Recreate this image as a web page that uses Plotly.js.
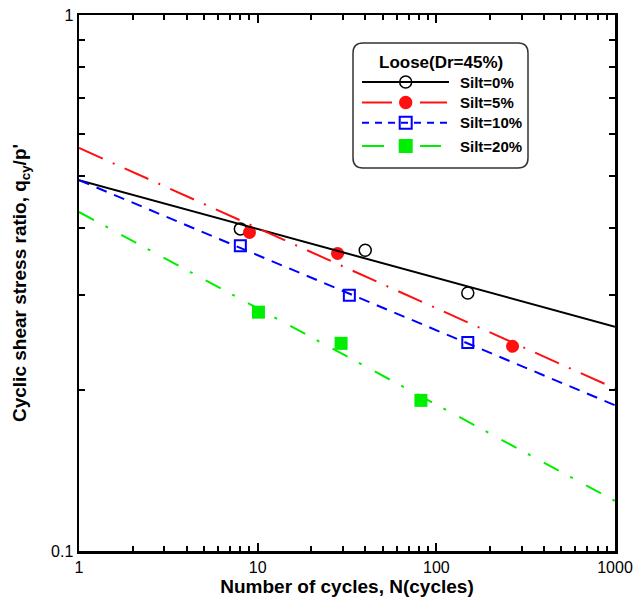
<!DOCTYPE html>
<html>
<head>
<meta charset="utf-8">
<script src="https://cdn.plot.ly/plotly-3.0.1.min.js"></script>
<style>html,body{margin:0;padding:0;background:#fff;}#chart{width:644px;height:602px;}</style>
</head>
<body>
<div id="chart"></div>
<script>
// ---- data ----
const seriesNames = ['Silt=0%', 'Silt=5%', 'Silt=10%', 'Silt=20%'];
const legendTitle = 'Loose(Dr=45%)';

const cycles0 = [8, 40, 150];
const ratio0 = [0.399, 0.364, 0.303];
const cycles5 = [9, 28, 267];
const ratio5 = [0.393, 0.359, 0.241];
const cycles10 = [8, 32.6, 150];
const ratio10 = [0.371, 0.300, 0.245];
const cycles20 = [10.1, 29.3, 82];
const ratio20 = [0.279, 0.244, 0.191];

const fitCycles = [1, 1000];
const fit0 = [0.492, 0.262];
const fit5 = [0.565, 0.201];
const fit10 = [0.492, 0.187];
const fit20 = [0.429, 0.124];

const xTickVals = [1, 10, 100, 1000];
const xTickText = ['1', '10', '100', '1000'];
const xMinorVals = [2,3,4,5,6,7,8,9,20,30,40,50,60,70,80,90,200,300,400,500,600,700,800,900];
const yTickVals = [0.1, 1];
const yTickText = ['0.1', '1'];
const yMinorVals = [0.2,0.3,0.4,0.5,0.6,0.7,0.8,0.9];

// ---- styles ----
const GREEN = '#00ee00';
const styles = [
  {color: 'black', dash: 'solid', symbol: 'circle-open', size: 12, lw: 1.5, legDash: 'solid'},
  {color: '#ff1010', dash: '26px,11px,2px,11px', symbol: 'circle', size: 13, lw: 0, legDash: 'solid'},
  {color: '#0000ff', dash: '11px,8px', symbol: 'square-open', size: 11, lw: 2, legDash: '7px,6px'},
  {color: GREEN, dash: '17px,13px,3px,15px', symbol: 'square', size: 13, lw: 0, legDash: 'solid'}
];
const pointsX = [cycles0, cycles5, cycles10, cycles20];
const pointsY = [ratio0, ratio5, ratio10, ratio20];
const fits = [fit0, fit5, fit10, fit20];

const traces = [];
for (let i = 0; i < 4; i++) {
  const s = styles[i];
  traces.push({
    x: pointsX[i], y: pointsY[i], type: 'scatter', mode: 'markers', name: seriesNames[i],
    marker: {color: s.color, symbol: s.symbol, size: s.size, line: {color: s.color, width: s.lw}},
    showlegend: false
  });
}
for (let i = 0; i < 4; i++) {
  const s = styles[i];
  traces.push({
    x: fitCycles, y: fits[i], type: 'scatter', mode: 'lines',
    line: {color: s.color, width: 2, dash: s.dash},
    showlegend: false, hoverinfo: 'skip'
  });
}

// plot area in pixels
const L = 79, R = 615, T = 15, B = 551;
const W = R - L, H = B - T;
const px = v => (v - L) / W;
const py = v => (B - v) / H;

const FONT = 'Arial, Liberation Sans, sans-serif';
const shapes = [];
const annotations = [];
// legend box with rounded corners
(function () {
  const x0 = px(353), x1 = px(528), yt = py(43), yb = py(168), r = 10 / W;
  const p = `M${x0 + r},${yt} L${x1 - r},${yt} Q${x1},${yt} ${x1},${yt - r} L${x1},${yb + r} Q${x1},${yb} ${x1 - r},${yb} L${x0 + r},${yb} Q${x0},${yb} ${x0},${yb + r} L${x0},${yt - r} Q${x0},${yt} ${x0 + r},${yt} Z`;
  shapes.push({type: 'path', xref: 'paper', yref: 'paper', path: p, line: {color: '#333', width: 1.5}, fillcolor: 'rgba(255,255,255,0)'});
})();
annotations.push({xref: 'paper', yref: 'paper', x: px(441), y: py(62), text: '<b>' + legendTitle + '</b>', showarrow: false,
  xanchor: 'center', yanchor: 'middle', font: {family: FONT, size: 17, color: 'black'}});
const rowsY = [82, 102.5, 122.7, 146];
const segs = [
  [[362, 449]],
  [[362, 392], [420, 447]],
  [[362, 449]],
  [[362, 384], [420, 441]]
];
for (let i = 0; i < 4; i++) {
  const s = styles[i], yy = py(rowsY[i]);
  segs[i].forEach(sg => shapes.push({type: 'line', xref: 'paper', yref: 'paper', x0: px(sg[0]), x1: px(sg[1]), y0: yy, y1: yy,
    line: {color: s.color, width: 2, dash: s.legDash}}));
  const cx = 405.7, cy = rowsY[i];
  if (i === 0) {
    shapes.push({type: 'circle', xref: 'paper', yref: 'paper', x0: px(cx - 6), x1: px(cx + 6), y0: py(cy - 6), y1: py(cy + 6), line: {color: 'black', width: 1.5}, fillcolor: 'rgba(255,255,255,0)'});
  } else if (i === 1) {
    shapes.push({type: 'circle', xref: 'paper', yref: 'paper', x0: px(cx - 6.7), x1: px(cx + 6.7), y0: py(cy - 6.7), y1: py(cy + 6.7), line: {color: s.color, width: 0}, fillcolor: s.color});
  } else if (i === 2) {
    shapes.push({type: 'rect', xref: 'paper', yref: 'paper', x0: px(cx - 6), x1: px(cx + 6), y0: py(cy - 6), y1: py(cy + 6), line: {color: s.color, width: 2}, fillcolor: 'rgba(255,255,255,0)'});
  } else {
    shapes.push({type: 'rect', xref: 'paper', yref: 'paper', x0: px(cx - 7), x1: px(cx + 7), y0: py(cy - 7), y1: py(cy + 7), line: {color: s.color, width: 0}, fillcolor: s.color});
  }
  annotations.push({xref: 'paper', yref: 'paper', x: px(458), y: yy, text: '<b>' + seriesNames[i] + '</b>', showarrow: false,
    xanchor: 'left', yanchor: 'middle', font: {family: FONT, size: 15, color: 'black'}});
}

const layout = {
  width: 644, height: 602,
  margin: {l: L, r: 644 - R, t: T, b: 602 - B},
  paper_bgcolor: 'white', plot_bgcolor: 'white',
  font: {family: FONT, size: 16, color: 'black'},
  showlegend: false,
  xaxis: {
    type: 'log', range: [0, 3], tickmode: 'array', tickvals: xTickVals, ticktext: xTickText,
    ticks: 'inside', ticklen: 8, tickwidth: 2, tickcolor: 'black',
    showline: true, linewidth: 2.5, linecolor: 'black', mirror: 'ticks',
    showgrid: false, zeroline: false,
    minor: {tickmode: 'array', tickvals: xMinorVals, ticks: 'inside', ticklen: 5, tickwidth: 2, tickcolor: 'black', showgrid: false},
    tickfont: {family: FONT, size: 16, color: 'black'},
    title: {text: 'Number of cycles, N(cycles)', font: {family: FONT, size: 19, color: 'black', weight: 'bold'}, standoff: 2}
  },
  yaxis: {
    type: 'log', range: [-1, 0], tickmode: 'array', tickvals: yTickVals, ticktext: yTickText,
    ticks: 'inside', ticklen: 8, tickwidth: 2, tickcolor: 'black',
    showline: true, linewidth: 2.5, linecolor: 'black', mirror: 'ticks',
    showgrid: false, zeroline: false,
    minor: {tickmode: 'array', tickvals: yMinorVals, ticks: 'inside', ticklen: 6, tickwidth: 2, tickcolor: 'black', showgrid: false},
    tickfont: {family: FONT, size: 16, color: 'black'},
    title: {text: "Cyclic shear stress ratio, q<sub>cy</sub>/p'", font: {family: FONT, size: 19, color: 'black', weight: 'bold'}, standoff: 20}
  },
  shapes: shapes,
  annotations: annotations
};

Plotly.newPlot('chart', traces, layout, {displayModeBar: false, staticPlot: true});
</script>
</body>
</html>
